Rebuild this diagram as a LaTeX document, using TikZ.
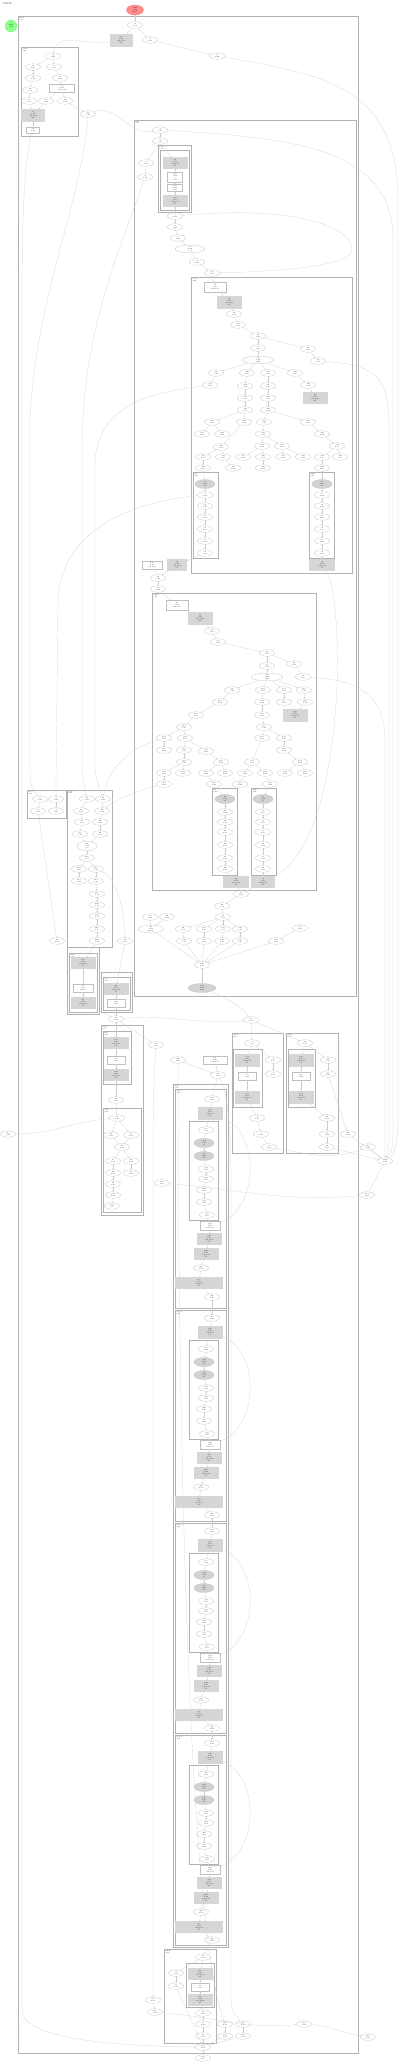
\documentclass[tikz,border=0pt]{standalone}
\usetikzlibrary{shapes.geometric,arrows.meta}
\tikzset{
  fn/.style={ellipse, draw=gray!50, line width=.25pt, inner sep=.2pt, minimum width=15, minimum height=6.5, font=\fontsize{1.6}{1.8}\selectfont, align=center},
  hot/.style={fn, fill=gray!35, minimum width=20, minimum height=9},
  blk/.style={rectangle, draw=gray!32, fill=gray!32, line width=.25pt, inner sep=.2pt, minimum width=24, minimum height=11, font=\fontsize{1.6}{1.8}\selectfont, align=center},
  note/.style={blk, draw=gray!50, fill=white, minimum width=18, minimum height=8},
  clus/.style={draw=gray!60, line width=.35pt},
  ctitle/.style={anchor=north west, inner sep=.3pt, font=\fontsize{1.5}{1.7}\selectfont, align=left},
  lnk/.style={draw=gray!40, line width=.2pt, -{Stealth[length=1.3pt,width=1.1pt]}},
  every edge/.style={lnk}
}
\begin{document}
\begin{tikzpicture}[x=1pt,y=-1pt]
\useasboundingbox (0,0) rectangle (400,2063);

% header and ends
\node[ctitle] (hdr) at (2,1.5) {call graph\\total 4.20 s};
\node[fn, fill=red!45, draw=red!60, minimum width=17, minimum height=10] (root) at (135,10) {\textbf{root}\\4.20\\100\%};
\node[fn, circle, fill=green!45, draw=green!60, minimum size=12] (done) at (11,26) {\textbf{end}\\0.00};

% main
\draw[clus] (18,16) rectangle (358,2053);
\node[ctitle] (ttlmain) at (19,17) {main\\4.18};
\node[fn] (t1) at (135,25) {t1\\4.18};
\node[blk, minimum width=22, minimum height=12] (tg) at (121,40) {tg\\2.10\\self 0.01\\50\%};
\node[fn] (t2) at (150,40) {t2\\2.05};
\node[fn] (t3) at (217,56) {t3\\1.96};

% setup
\draw[clus] (21,47) rectangle (78,136);
\node[ctitle] (ttlA) at (22,48) {setup\\0.90};
\node[fn] (a1) at (53,56) {a1\\0.90};
\node[fn] (a2) at (33,67) {a2\\0.41};
\node[fn] (a3) at (54,67) {a3\\0.45};
\node[fn] (a4) at (33,78) {a4\\0.40};
\node[fn] (a5) at (60,78) {a5\\0.44};
\node[fn] (a6) at (30,90) {a6\\0.38};
\node[note, minimum width=25] (ar) at (62,88) {ar\\0.43\\self 0.02};
\node[fn] (a7) at (29,101) {a7\\0.37};
\node[fn] (a8) at (46,101) {a8\\0.20};
\node[fn] (a9) at (65,101) {a9\\0.21};
\node[blk, minimum width=23, minimum height=12] (ag) at (33,115) {ag\\0.36\\self 0.30\\9\%};
\node[note, minimum width=13, minimum height=6] (aw) at (33,130) {aw\\0.06};
\node[fn] (b0) at (88,114) {b0\\0.21};

% run
\draw[clus] (134,120) rectangle (356,996);
\node[ctitle] (ttlB) at (135,121) {run\\3.10};
\node[fn] (c1) at (160,130) {c1\\3.10};
\node[fn] (c2) at (160,141) {c2\\3.02};
\draw[clus] (158,145) rectangle (191,212);
\draw[clus] (160,150) rectangle (189,210);
\node[ctitle] (ttlC) at (159,146) {load\\0.30};
\node[blk] (cg1) at (175,163) {cg1\\0.30\\self 0.02\\7\%};
\node[note, minimum width=15, minimum height=10] (cw1) at (175,177) {cw1\\0.28\\io\\0.27};
\node[note, minimum width=15, minimum height=7] (cw2) at (175,188) {cw2\\0.26\\0.25};
\node[blk] (cg2) at (175,201) {cg2\\0.25\\self 0.25\\6\%};
\node[fn] (c3) at (146,163) {c3\\0.12};
\node[fn] (c4) at (145,177) {c4\\0.11};
\node[fn] (c5) at (175,216) {c5\\2.70};
\node[fn] (c6) at (175,227) {c6\\2.68};
\node[fn] (c7) at (178,238) {c7\\2.66};
\node[fn, minimum width=30] (c8) at (190,249) {c8\\2.64\\loop};
\node[fn] (c9) at (197,262) {c9\\2.60};
\node[fn] (c10) at (212,273) {c10\\2.58};

% solve
\draw[clus] (191,277) rectangle (352,573);
\node[ctitle] (ttlD) at (192,278) {solve\\1.40};
\node[note, minimum width=22, minimum height=10] (d1) at (215,287) {d1\\1.40\\self 0.01};
\node[blk, minimum height=12] (dg) at (229,302) {dg\\1.39\\self 0.03\\33\%};
\node[fn] (d2) at (234,314) {d2\\1.36};
\node[fn] (d3) at (238,325) {d3\\1.35};
\node[fn] (d4) at (258,336) {d4\\1.34};
\node[fn] (d5) at (258,348) {d5\\1.20};
\node[fn] (d6) at (308,349) {d6\\0.14};
\node[fn] (d7) at (318,361) {d7\\0.13};
\node[fn, minimum width=32] (d8) at (258,360) {d8\\1.19\\split};
\node[fn] (d9) at (216,373) {d9\\0.20};
\node[fn] (d10) at (247,373) {d10\\0.40};
\node[fn] (d11) at (268,373) {d11\\0.39};
\node[fn] (d12) at (295,373) {d12\\0.20};
\node[fn] (d13) at (210,385) {d13\\0.19};
\node[fn] (d14) at (245,386) {d14\\0.39};
\node[fn] (d15) at (268,386) {d15\\0.38};
\node[fn] (d16) at (308,385) {d16\\0.19};
\node[blk] (dg2) at (315,398) {dg2\\0.18\\self 0.18\\4\%};
\node[fn] (d17) at (245,398) {d17\\0.38};
\node[fn] (d18) at (268,398) {d18\\0.37};
\node[fn] (d19) at (245,410) {d19\\0.37};
\node[fn] (d20) at (268,410) {d20\\0.36};
\node[fn] (d21) at (212,422) {d21\\0.12};
\node[fn] (d22) at (244,422) {d22\\0.12};
\node[fn] (d23) at (264,422) {d23\\0.18};
\node[fn] (d24) at (308,422) {d24\\0.17};
\node[fn] (d25) at (202,434) {d25\\0.06};
\node[fn] (d26) at (222,434) {d26\\0.06};
\node[fn] (d27) at (263,434) {d27\\0.17};
\node[fn] (d28) at (322,434) {d28\\0.16};
\node[fn] (d29) at (221,447) {d29\\0.11};
\node[fn] (d30) at (262,446) {d30\\0.08};
\node[fn] (d31) at (282,446) {d31\\0.08};
\node[fn] (d32) at (337,446) {d32\\0.15};
\node[fn] (d33) at (203,457) {d33\\0.05};
\node[fn] (d34) at (223,457) {d34\\0.05};
\node[fn] (d35) at (243,457) {d35\\0.04};
\node[fn] (d36) at (263,457) {d36\\0.04};
\node[fn] (d37) at (283,457) {d37\\0.04};
\node[fn] (d38) at (303,457) {d38\\0.04};
\node[fn] (d39) at (322,457) {d39\\0.07};
\node[fn] (d40) at (340,457) {d40\\0.07};
\node[fn] (d41) at (203,468) {d41\\0.05};
\node[fn] (d42) at (233,468) {d42\\0.04};
\node[fn] (d43) at (263,468) {d43\\0.04};
\node[fn] (d44) at (322,468) {d44\\0.07};
\draw[clus] (193,472) rectangle (218,558);
\node[ctitle] (ttlE) at (194,473) {left\\0.05};
\node[hot] (e0) at (205,484) {e0\\0.05\\5\%};
\node[fn] (e1) at (205,495) {e1\\0.04};
\node[fn] (e2) at (205,506) {e2\\0.04};
\node[fn] (e3) at (205,517) {e3\\0.03};
\node[fn] (e4) at (205,529) {e4\\0.03};
\node[fn] (e5) at (205,541) {e5\\0.02};
\node[fn] (e6) at (205,553) {e6\\0.02};
\draw[clus] (309,472) rectangle (334,558);
\node[ctitle] (ttlF) at (310,473) {right\\0.07};
\node[hot] (f0) at (322,484) {f0\\0.07\\6\%};
\node[fn] (f1) at (322,495) {f1\\0.06};
\node[fn] (f2) at (322,506) {f2\\0.06};
\node[fn] (f3) at (322,517) {f3\\0.05};
\node[fn] (f4) at (322,529) {f4\\0.05};
\node[fn] (f5) at (322,541) {f5\\0.04};
\node[fn] (f6) at (322,553) {f6\\0.04};
\node[blk, minimum width=25] (fg) at (322,565) {fg\\0.04\\self 0.04\\1\%};
\node[note, minimum width=20] (bw) at (152,565) {bw\\0.30\\self 0.01};
\node[blk, minimum width=19] (bg) at (177,565) {bg\\0.29\\self 0.02\\7\%};
\node[fn] (b1) at (158,578) {b1\\1.10};
\node[fn] (b2) at (158,589) {b2\\1.08};

% refine
\draw[clus] (152,593) rectangle (316,890);
\node[ctitle] (ttlG) at (153,594) {refine\\1.08};
\node[note, minimum width=22, minimum height=10] (g1) at (177,605) {g1\\1.08\\self 0.01};
\node[blk, minimum height=12] (gg) at (200,618) {gg\\1.07\\self 0.02\\25\%};
\node[fn] (g2) at (212,631) {g2\\1.05};
\node[fn] (g3) at (218,642) {g3\\1.04};
\node[fn] (g4) at (267,653) {g4\\1.03};
\node[fn] (g5) at (267,666) {g5\\0.92};
\node[fn] (g6) at (294,664) {g6\\0.11};
\node[fn] (g7) at (303,677) {g7\\0.10};
\node[fn, minimum width=32] (g8) at (267,677) {g8\\0.91\\split};
\node[fn] (g9) at (232,690) {g9\\0.30};
\node[fn] (g10) at (263,690) {g10\\0.30};
\node[fn] (g11) at (284,690) {g11\\0.16};
\node[fn] (g12) at (304,690) {g12\\0.15};
\node[fn] (g13) at (220,702) {g13\\0.29};
\node[fn] (g14) at (262,702) {g14\\0.29};
\node[fn] (g15) at (284,702) {g15\\0.15};
\node[fn] (g16) at (305,702) {g16\\0.14};
\node[blk, minimum height=12] (gg2) at (295,715) {gg2\\0.14\\self 0.14\\3\%};
\node[fn] (g17) at (196,715) {g17\\0.28};
\node[fn] (g18) at (262,715) {g18\\0.28};
\node[fn] (g19) at (184,727) {g19\\0.27};
\node[fn] (g20) at (264,727) {g20\\0.27};
\node[fn] (g21) at (164,738) {g21\\0.09};
\node[fn] (g22) at (185,738) {g22\\0.17};
\node[fn] (g23) at (262,738) {g23\\0.13};
\node[fn] (g24) at (284,738) {g24\\0.13};
\node[fn] (g25) at (164,750) {g25\\0.09};
\node[fn] (g26) at (184,750) {g26\\0.08};
\node[fn] (g27) at (206,751) {g27\\0.08};
\node[fn] (g28) at (284,750) {g28\\0.12};
\node[fn] (g29) at (184,762) {g29\\0.08};
\node[fn] (g30) at (221,762) {g30\\0.08};
\node[fn] (g31) at (252,762) {g31\\0.12};
\node[fn] (g32) at (300,762) {g32\\0.12};
\node[fn] (g33) at (164,773) {g33\\0.04};
\node[fn] (g34) at (183,773) {g34\\0.04};
\node[fn] (g35) at (206,773) {g35\\0.04};
\node[fn] (g36) at (225,773) {g36\\0.04};
\node[fn] (g37) at (245,773) {g37\\0.06};
\node[fn] (g38) at (265,773) {g38\\0.06};
\node[fn] (g39) at (285,773) {g39\\0.06};
\node[fn] (g40) at (305,773) {g40\\0.06};
\node[fn] (g41) at (164,784) {g41\\0.04};
\node[fn] (g42) at (214,784) {g42\\0.04};
\node[fn] (g43) at (240,784) {g43\\0.06};
\node[fn] (g44) at (270,784) {g44\\0.06};
\draw[clus] (212,788) rectangle (237,875);
\node[ctitle] (ttlH) at (213,789) {left\\0.04};
\node[hot] (h0) at (225,799) {h0\\0.04\\4\%};
\node[fn] (h1) at (225,812) {h1\\0.04};
\node[fn] (h2) at (225,822) {h2\\0.03};
\node[fn] (h3) at (225,832) {h3\\0.03};
\node[fn] (h4) at (225,845) {h4\\0.03};
\node[fn] (h5) at (225,858) {h5\\0.02};
\node[fn] (h6) at (225,869) {h6\\0.02};
\draw[clus] (251,788) rectangle (276,875);
\node[ctitle] (ttlI) at (252,789) {right\\0.06};
\node[hot] (i0) at (263,799) {i0\\0.06\\5\%};
\node[fn] (i1) at (263,812) {i1\\0.05};
\node[fn] (i2) at (263,822) {i2\\0.05};
\node[fn] (i3) at (263,832) {i3\\0.05};
\node[fn] (i4) at (263,845) {i4\\0.04};
\node[fn] (i5) at (263,858) {i5\\0.04};
\node[fn] (i6) at (263,869) {i6\\0.03};
\node[blk, minimum width=25] (hg) at (236,882) {hg\\0.02\\self 0.02\\1\%};
\node[blk, minimum width=23] (ig) at (263,882) {ig\\0.03\\self 0.03\\1\%};
\node[fn] (b3) at (241,894) {b3\\0.60};
\node[fn] (b4) at (222,906) {b4\\0.58};
\node[fn] (b5) at (150,917) {b5\\0.10};
\node[fn] (b6) at (167,917) {b6\\0.09};
\node[fn] (b7) at (223,917) {b7\\0.57};
\node[fn, minimum width=26] (b8) at (151,929) {b8\\0.18\\merge};
\node[fn] (b9) at (183,929) {b9\\0.12};
\node[fn] (b10) at (204,929) {b10\\0.12};
\node[fn] (b11) at (223,929) {b11\\0.11};
\node[fn] (b12) at (240,929) {b12\\0.11};
\node[fn] (b13) at (300,928) {b13\\0.10};
\node[fn] (b14) at (184,941) {b14\\0.11};
\node[fn] (b15) at (204,941) {b15\\0.11};
\node[fn] (b16) at (222,941) {b16\\0.10};
\node[fn] (b17) at (240,941) {b17\\0.10};
\node[fn] (b18) at (276,941) {b18\\0.09};
\node[fn] (b19) at (202,965) {b19\\0.50};
\node[hot, minimum width=28] (b20) at (202,988) {b20\\0.49\\12\%};

% left groups
\draw[clus] (27,790) rectangle (66,818);
\node[ctitle] (ttlJ) at (28,791) {read\\0.08};
\node[fn] (j1) at (40,799) {j1\\0.04};
\node[fn] (j2) at (56,799) {j2\\0.04};
\node[fn] (j3) at (38,811) {j3\\0.03};
\node[fn] (j4) at (56,811) {j4\\0.03};
\draw[clus] (67,790) rectangle (112,947);
\node[ctitle] (ttlK) at (68,791) {parse\\0.40};
\node[fn] (k1) at (87,799) {k1\\0.20};
\node[fn] (k2) at (103,799) {k2\\0.20};
\node[fn] (k3) at (81,811) {k3\\0.19};
\node[fn] (k4) at (102,811) {k4\\0.19};
\node[fn] (k5) at (82,822) {k5\\0.18};
\node[fn] (k6) at (100,822) {k6\\0.18};
\node[fn] (k7) at (80,834) {k7\\0.17};
\node[fn] (k8) at (100,834) {k8\\0.17};
\node[fn, minimum width=20, minimum height=9] (k9) at (87,846) {k9\\0.34\\join};
\node[fn] (k10) at (87,858) {k10\\0.33};
\node[fn] (k11) at (79,869) {k11\\0.10};
\node[fn] (k12) at (96,869) {k12\\0.22};
\node[fn] (k13) at (79,881) {k13\\0.09};
\node[fn] (k14) at (96,881) {k14\\0.21};
\node[fn] (k15) at (97,894) {k15\\0.20};
\node[fn] (k16) at (97,905) {k16\\0.19};
\node[fn] (k17) at (97,916) {k17\\0.18};
\node[fn] (k18) at (97,929) {k18\\0.17};
\node[fn] (k19) at (97,941) {k19\\0.16};
\node[fn] (x1) at (57,941) {x1\\0.03};
\node[fn] (x2) at (125,941) {x2\\0.05};
\draw[clus] (67,947) rectangle (99,1014);
\draw[clus] (69,953) rectangle (97,1012);
\node[ctitle] (ttlL) at (70,954) {write\\0.16};
\node[blk] (lg1) at (83,963) {lg1\\0.16\\self 0.01\\4\%};
\node[note, minimum width=20] (lw) at (83,988) {lw\\0.15\\flush};
\node[blk] (lg2) at (83,1003) {lg2\\0.14\\self 0.14\\3\%};
\draw[clus] (101,972) rectangle (132,1012);
\draw[clus] (103,977) rectangle (130,1010);
\node[ctitle] (ttlM) at (104,978) {log\\0.05};
\node[blk] (mg) at (116,989) {mg\\0.05\\self 0.01\\1\%};
\node[note] (mw) at (116,1003) {mw\\0.04};
\node[fn] (x3) at (116,1019) {x3\\0.40};
\draw[clus] (101,1025) rectangle (143,1215);
\node[ctitle] (ttlN) at (102,1026) {report\\0.30};
\draw[clus] (103,1031) rectangle (131,1084);
\node[ctitle] (ttlN1) at (104,1032) {fmt\\0.10};
\node[blk] (ng1) at (116,1043) {ng1\\0.10\\self 0.01\\2\%};
\node[note] (nw) at (116,1060) {nw\\0.09};
\node[blk] (ng2) at (116,1075) {ng2\\0.08\\self 0.08\\2\%};
\node[fn] (x4) at (116,1100) {x4\\0.20};
\draw[clus] (103,1108) rectangle (141,1212);
\node[ctitle] (ttlN2) at (104,1109) {emit\\0.20};
\node[fn] (n1) at (117,1118) {n1\\0.20};
\node[fn] (n2) at (111,1135) {n2\\0.10};
\node[fn] (n3) at (131,1135) {n3\\0.10};
\node[fn] (n4) at (122,1147) {n4\\0.19};
\node[fn] (n5) at (113,1161) {n5\\0.09};
\node[fn] (n6) at (131,1161) {n6\\0.09};
\node[fn] (n7) at (113,1173) {n7\\0.08};
\node[fn] (n8) at (131,1173) {n8\\0.08};
\node[fn] (n9) at (113,1184) {n9\\0.07};
\node[fn] (n10) at (113,1195) {n10\\0.06};
\node[fn] (n11) at (112,1206) {n11\\0.05};

% middle row
\node[fn] (x5) at (156,1045) {x5\\0.04};
\node[fn] (x6) at (178,1060) {x6\\0.20};
\node[note, minimum width=24] (xw) at (215,1060) {xw\\0.20\\self 0.01};
\node[fn] (x7) at (218,1075) {x7\\0.90};
\node[fn] (x8) at (251,1020) {x8\\0.30};
\draw[clus] (232,1033) rectangle (283,1153);
\node[ctitle] (ttlO) at (233,1034) {check\\0.15};
\node[fn] (o1) at (252,1043) {o1\\0.15};
\draw[clus] (233,1049) rectangle (262,1107);
\node[blk, minimum height=12] (og1) at (247,1060) {og1\\0.10\\self 0.01\\2\%};
\node[note] (ow) at (247,1076) {ow\\0.09};
\node[blk, minimum height=12] (og2) at (247,1097) {og2\\0.08\\self 0.08\\2\%};
\node[fn] (o2) at (273,1060) {o2\\0.05};
\node[fn] (o3) at (273,1074) {o3\\0.04};
\node[fn] (o4) at (257,1118) {o4\\0.07};
\node[fn] (o5) at (261,1134) {o5\\0.06};
\node[fn] (o6) at (269,1147) {o6\\0.05};
\draw[clus] (286,1033) rectangle (338,1153);
\node[ctitle] (ttlP) at (287,1034) {verify\\0.15};
\node[fn] (p1) at (305,1043) {p1\\0.15};
\draw[clus] (288,1049) rectangle (315,1107);
\node[blk, minimum height=12] (pg1) at (301,1060) {pg1\\0.10\\self 0.01\\2\%};
\node[note] (pw) at (301,1076) {pw\\0.09};
\node[blk, minimum height=12] (pg2) at (301,1097) {pg2\\0.08\\self 0.08\\2\%};
\node[fn] (p2) at (328,1060) {p2\\0.05};
\node[fn] (p3) at (328,1074) {p3\\0.04};
\node[fn] (p4) at (327,1118) {p4\\0.07};
\node[fn] (p5) at (327,1134) {p5\\0.06};
\node[fn] (p6) at (327,1147) {p6\\0.05};
\node[fn] (x9) at (348,1134) {x9\\0.02};
\node[fn] (x10) at (368,1147) {x10\\0.02};
\node[fn] (sink) at (385,1161) {sink\\0.60};
\node[fn] (x11) at (8,1134) {x11\\0.01};
\node[fn] (x12) at (162,1183) {x12\\0.01};
\node[fn] (x13) at (367,1195) {x13\\0.01};

% loop body
\draw[clus] (173,1084) rectangle (228,1947);
\node[ctitle] (ttlQ) at (174,1085) {steps\\0.88};
% step 1
\draw[clus] (175,1089) rectangle (226,1308);
\node[ctitle] (ttlQ1) at (176,1090) {step 1\\0.22};
\node[fn] (q1a) at (212,1099) {q1a\\0.22};
\node[blk, minimum height=12] (q1b) at (210,1113) {q1b\\0.22\\self 0.01\\5\%};
\draw[clus] (189,1121) rectangle (218,1220);
\node[fn] (q1c) at (206,1130) {q1c\\0.12};
\node[hot] (q1d) at (204,1143) {q1d\\0.11\\3\%};
\node[hot] (q1e) at (204,1156) {q1e\\0.10\\2\%};
\node[fn] (q1f) at (206,1169) {q1f\\0.05};
\node[fn] (q1g) at (206,1179) {q1g\\0.05};
\node[fn] (q1h) at (204,1190) {q1h\\0.04};
\node[fn] (q1i) at (204,1202) {q1i\\0.04};
\node[fn] (q1j) at (207,1215) {q1j\\0.03};
\node[note, minimum width=20, minimum height=9] (q1k) at (210,1226) {q1k\\0.09\\self 0.01};
\node[blk] (q1l) at (209,1239) {q1l\\0.08\\self 0.02\\2\%};
\node[blk] (q1m) at (206,1254) {q1m\\0.06\\self 0.03\\1\%};
\node[fn] (q1n) at (201,1268) {q1n\\0.03};
\node[blk, minimum width=47] (q1o) at (199,1283) {q1o\\0.03\\self 0.03\\1\%};
\node[fn] (q1p) at (212,1297) {q1p\\0.01};
% step 2
\draw[clus] (175,1310) rectangle (226,1521);
\node[ctitle] (ttlQ2) at (176,1311) {step 2\\0.22};
\node[fn] (q2a) at (212,1318) {q2a\\0.22};
\node[blk, minimum height=12] (q2b) at (210,1332) {q2b\\0.22\\self 0.01\\5\%};
\draw[clus] (189,1340) rectangle (218,1439);
\node[fn] (q2c) at (206,1349) {q2c\\0.12};
\node[hot] (q2d) at (204,1362) {q2d\\0.11\\3\%};
\node[hot] (q2e) at (204,1375) {q2e\\0.10\\2\%};
\node[fn] (q2f) at (206,1388) {q2f\\0.05};
\node[fn] (q2g) at (206,1398) {q2g\\0.05};
\node[fn] (q2h) at (204,1409) {q2h\\0.04};
\node[fn] (q2i) at (204,1421) {q2i\\0.04};
\node[fn] (q2j) at (207,1434) {q2j\\0.03};
\node[note, minimum width=20, minimum height=9] (q2k) at (210,1445) {q2k\\0.09\\self 0.01};
\node[blk] (q2l) at (209,1458) {q2l\\0.08\\self 0.02\\2\%};
\node[blk] (q2m) at (206,1473) {q2m\\0.06\\self 0.03\\1\%};
\node[fn] (q2n) at (201,1487) {q2n\\0.03};
\node[blk, minimum width=47] (q2o) at (199,1502) {q2o\\0.03\\self 0.03\\1\%};
\node[fn] (q2p) at (212,1515) {q2p\\0.01};
% step 3
\draw[clus] (175,1523) rectangle (226,1733);
\node[ctitle] (ttlQ3) at (176,1524) {step 3\\0.22};
\node[fn] (q3a) at (212,1531) {q3a\\0.22};
\node[blk, minimum height=12] (q3b) at (210,1545) {q3b\\0.22\\self 0.01\\5\%};
\draw[clus] (189,1553) rectangle (218,1652);
\node[fn] (q3c) at (206,1562) {q3c\\0.12};
\node[hot] (q3d) at (204,1575) {q3d\\0.11\\3\%};
\node[hot] (q3e) at (204,1588) {q3e\\0.10\\2\%};
\node[fn] (q3f) at (206,1601) {q3f\\0.05};
\node[fn] (q3g) at (206,1611) {q3g\\0.05};
\node[fn] (q3h) at (204,1622) {q3h\\0.04};
\node[fn] (q3i) at (204,1634) {q3i\\0.04};
\node[fn] (q3j) at (207,1647) {q3j\\0.03};
\node[note, minimum width=20, minimum height=9] (q3k) at (210,1658) {q3k\\0.09\\self 0.01};
\node[blk] (q3l) at (209,1671) {q3l\\0.08\\self 0.02\\2\%};
\node[blk] (q3m) at (206,1686) {q3m\\0.06\\self 0.03\\1\%};
\node[fn] (q3n) at (201,1700) {q3n\\0.03};
\node[blk, minimum width=47] (q3o) at (199,1715) {q3o\\0.03\\self 0.03\\1\%};
\node[fn] (q3p) at (212,1728) {q3p\\0.01};
% step 4
\draw[clus] (175,1735) rectangle (226,1945);
\node[ctitle] (ttlQ4) at (176,1736) {step 4\\0.22};
\node[fn] (q4a) at (212,1743) {q4a\\0.22};
\node[blk, minimum height=12] (q4b) at (210,1757) {q4b\\0.22\\self 0.01\\5\%};
\draw[clus] (189,1765) rectangle (218,1864);
\node[fn] (q4c) at (206,1774) {q4c\\0.12};
\node[hot] (q4d) at (204,1787) {q4d\\0.11\\3\%};
\node[hot] (q4e) at (204,1800) {q4e\\0.10\\2\%};
\node[fn] (q4f) at (206,1813) {q4f\\0.05};
\node[fn] (q4g) at (206,1823) {q4g\\0.05};
\node[fn] (q4h) at (204,1834) {q4h\\0.04};
\node[fn] (q4i) at (204,1846) {q4i\\0.04};
\node[fn] (q4j) at (207,1859) {q4j\\0.03};
\node[note, minimum width=20, minimum height=9] (q4k) at (210,1870) {q4k\\0.09\\self 0.01};
\node[blk] (q4l) at (209,1883) {q4l\\0.08\\self 0.02\\2\%};
\node[blk] (q4m) at (206,1898) {q4m\\0.06\\self 0.03\\1\%};
\node[fn] (q4n) at (201,1912) {q4n\\0.03};
\node[blk, minimum width=47] (q4o) at (199,1927) {q4o\\0.03\\self 0.03\\1\%};
\node[fn] (q4p) at (212,1940) {q4p\\0.01};

% finish
\draw[clus] (164,1949) rectangle (216,2043);
\node[ctitle] (ttlR) at (165,1950) {finish\\0.12};
\node[fn] (r1) at (203,1957) {r1\\0.12};
\draw[clus] (186,1963) rectangle (214,2007);
\node[blk] (rg1) at (200,1974) {rg1\\0.08\\self 0.01\\2\%};
\node[note] (rw) at (200,1987) {rw\\0.07};
\node[blk] (rg2) at (200,2000) {rg2\\0.06\\self 0.06\\1\%};
\node[fn] (r2) at (176,1973) {r2\\0.03};
\node[fn] (r3) at (176,1986) {r3\\0.02};
\node[fn] (r4) at (203,2013) {r4\\0.05};
\node[fn] (r5) at (203,2024) {r5\\0.04};
\node[fn] (r6) at (203,2036) {r6\\0.03};
\node[fn] (x14) at (153,2000) {x14\\0.02};
\node[fn] (x15) at (155,2012) {x15\\0.02};
\node[fn] (x16) at (225,2024) {x16\\0.01};
\node[fn] (x17) at (225,2036) {x17\\0.01};
\node[fn] (x18) at (243,2024) {x18\\0.01};
\node[fn] (x19) at (243,2036) {x19\\0.01};
\node[fn] (x20) at (304,2024) {x20\\0.01};
\node[fn] (x21) at (368,2037) {x21\\0.01};
\node[fn] (x22) at (203,2047) {x22\\0.05};
\node[fn] (x23) at (203,2058) {x23\\0.05};

% connectors
\path (root) edge (t1) (t1) edge (tg) (t1) edge (t2) (t2) edge (t3)
  (tg) edge[out=190,in=80] (a1)
  (a1) edge (a2) (a1) edge (a3) (a2) edge (a4) (a3) edge (a5) (a4) edge (a6) (a5) edge (ar)
  (a6) edge (a7) (ar) edge (a8) (ar) edge (a9) (a7) edge (ag) (a8) edge (ag) (ag) edge (aw)
  (a9) edge (b0) (b0) edge[out=20,in=190] (c1);
\path (c1) edge (c2) (c2) edge (cg1) (c2) edge (c3) (c3) edge (c4) (cg1) edge (cw1) (cw1) edge (cw2)
  (cw2) edge (cg2) (cg2) edge (c5) (c5) edge (c6) (c6) edge (c7) (c7) edge (c8) (c8) edge (c9)
  (c9) edge (c10) (c10) edge (d1);
\path (d1) edge (dg) (dg) edge (d2) (d2) edge (d3) (d3) edge (d4) (d4) edge (d5) (d5) edge (d8)
  (d4) edge (d6) (d6) edge (d7) (d8) edge (d9) (d8) edge (d10) (d8) edge (d11) (d8) edge (d12)
  (d9) edge (d13) (d10) edge (d14) (d11) edge (d15) (d12) edge (d16) (d16) edge (dg2)
  (d14) edge (d17) (d15) edge (d18) (d17) edge (d19) (d18) edge (d20) (d19) edge (d21)
  (d19) edge (d22) (d20) edge (d23) (d20) edge (d24) (d21) edge (d25) (d21) edge (d26)
  (d22) edge (d29) (d23) edge (d27) (d24) edge (d28) (d27) edge (d30) (d27) edge (d31)
  (d28) edge (d32) (d29) edge (d33) (d29) edge (d34) (d30) edge (d35) (d30) edge (d36)
  (d31) edge (d37) (d31) edge (d38) (d32) edge (d39) (d32) edge (d40) (d33) edge (d41)
  (d34) edge (d42) (d36) edge (d43) (d39) edge (d44) (d41) edge (e0) (d44) edge (f0)
  (e0) edge (e1) (e1) edge (e2) (e2) edge (e3) (e3) edge (e4) (e4) edge (e5) (e5) edge (e6)
  (f0) edge (f1) (f1) edge (f2) (f2) edge (f3) (f3) edge (f4) (f4) edge (f5) (f5) edge (f6)
  (f6) edge (fg) (e6) edge (bg) (bg) edge (b1) (bw) edge (b1) (b1) edge (b2) (b2) edge (g1);
\path (g1) edge (gg) (gg) edge (g2) (g2) edge (g3) (g3) edge (g4) (g4) edge (g5) (g5) edge (g8)
  (g4) edge (g6) (g6) edge (g7) (g8) edge (g9) (g8) edge (g10) (g8) edge (g11) (g8) edge (g12)
  (g9) edge (g13) (g10) edge (g14) (g11) edge (g15) (g12) edge (g16) (g16) edge (gg2)
  (g13) edge (g17) (g14) edge (g18) (g17) edge (g19) (g18) edge (g20) (g19) edge (g21)
  (g19) edge (g22) (g20) edge (g23) (g20) edge (g24) (g21) edge (g25) (g22) edge (g26)
  (g22) edge (g27) (g24) edge (g28) (g26) edge (g29) (g27) edge (g30) (g23) edge (g31)
  (g28) edge (g32) (g29) edge (g33) (g29) edge (g34) (g30) edge (g35) (g30) edge (g36)
  (g31) edge (g37) (g31) edge (g38) (g32) edge (g39) (g32) edge (g40) (g33) edge (g41)
  (g35) edge (g42) (g37) edge (g43) (g38) edge (g44) (g42) edge (h0) (g44) edge (i0)
  (h0) edge (h1) (h1) edge (h2) (h2) edge (h3) (h3) edge (h4) (h4) edge (h5) (h5) edge (h6)
  (i0) edge (i1) (i1) edge (i2) (i2) edge (i3) (i3) edge (i4) (i4) edge (i5) (i5) edge (i6)
  (h6) edge (hg) (i6) edge (ig) (hg) edge (b3) (ig) edge (b3) (b3) edge (b4) (b4) edge (b7)
  (b7) edge (b9) (b7) edge (b10) (b7) edge (b11) (b7) edge (b12) (b5) edge (b8) (b6) edge (b8)
  (b9) edge (b14) (b10) edge (b15) (b11) edge (b16) (b12) edge (b17) (b13) edge (b18)
  (b14) edge (b19) (b15) edge (b19) (b16) edge (b19) (b17) edge (b19) (b18) edge (b19)
  (b8) edge (b19) (b19) edge (b20);
\path (j1) edge (j3) (j2) edge (j4) (j3) edge (x1) (k1) edge (k3) (k2) edge (k4) (k3) edge (k5)
  (k4) edge (k6) (k5) edge (k7) (k6) edge (k8) (k7) edge (k9) (k8) edge (k9) (k9) edge (k10)
  (k10) edge (k11) (k10) edge (k12) (k11) edge (k13) (k12) edge (k14) (k14) edge (k15)
  (k15) edge (k16) (k16) edge (k17) (k17) edge (k18) (k18) edge (k19) (k19) edge (lg1)
  (lg1) edge (lw) (lw) edge (lg2) (x2) edge (mg) (mg) edge (mw) (mw) edge (x3) (lg2) edge (x3)
  (x3) edge (ng1) (ng1) edge (nw) (nw) edge (ng2) (ng2) edge (x4) (x4) edge (n1)
  (n1) edge (n2) (n1) edge (n3) (n2) edge (n4) (n3) edge (n4) (n4) edge (n5) (n4) edge (n6)
  (n5) edge (n7) (n6) edge (n8) (n7) edge (n9) (n9) edge (n10) (n10) edge (n11)
  (x3) edge (x5) (x3) edge[out=5,in=185] (x8) (x6) edge (x7) (xw) edge (x7) (x7) edge (q1a)
  (x11) edge[out=0,in=185] (n1) (x12) edge[out=-5,in=185] (x13);
\path (x8) edge (o1) (x8) edge (p1) (o1) edge (og1) (og1) edge (ow) (ow) edge (og2) (og2) edge (o4)
  (o4) edge (o5) (o5) edge (o6) (o1) edge (o2) (o2) edge (o3)
  (p1) edge (pg1) (pg1) edge (pw) (pw) edge (pg2) (pg2) edge (p4) (p4) edge (p5) (p5) edge (p6)
  (p1) edge (p2) (p2) edge (p3) (p3) edge (x9) (x9) edge (sink) (x10) edge (sink)
  (p6) edge (sink) (o6) edge[out=-10,in=200] (x10) (x13) edge (sink);
\path (q1a) edge (q1b) (q1b) edge (q1c) (q1c) edge (q1d) (q1d) edge (q1e) (q1e) edge (q1f)
  (q1f) edge (q1g) (q1g) edge (q1h) (q1h) edge (q1i) (q1i) edge (q1j) (q1j) edge (q1k)
  (q1k) edge (q1l) (q1l) edge (q1m) (q1m) edge (q1n) (q1n) edge (q1o) (q1o) edge (q1p)
  (q1b) edge[out=-20,in=20] (q1k) (q1p) edge (q2a)
  (q2a) edge (q2b) (q2b) edge (q2c) (q2c) edge (q2d) (q2d) edge (q2e) (q2e) edge (q2f)
  (q2f) edge (q2g) (q2g) edge (q2h) (q2h) edge (q2i) (q2i) edge (q2j) (q2j) edge (q2k)
  (q2k) edge (q2l) (q2l) edge (q2m) (q2m) edge (q2n) (q2n) edge (q2o) (q2o) edge (q2p)
  (q2b) edge[out=-20,in=20] (q2k) (q2p) edge (q3a)
  (q3a) edge (q3b) (q3b) edge (q3c) (q3c) edge (q3d) (q3d) edge (q3e) (q3e) edge (q3f)
  (q3f) edge (q3g) (q3g) edge (q3h) (q3h) edge (q3i) (q3i) edge (q3j) (q3j) edge (q3k)
  (q3k) edge (q3l) (q3l) edge (q3m) (q3m) edge (q3n) (q3n) edge (q3o) (q3o) edge (q3p)
  (q3b) edge[out=-20,in=20] (q3k) (q3p) edge (q4a)
  (q4a) edge (q4b) (q4b) edge (q4c) (q4c) edge (q4d) (q4d) edge (q4e) (q4e) edge (q4f)
  (q4f) edge (q4g) (q4g) edge (q4h) (q4h) edge (q4i) (q4i) edge (q4j) (q4j) edge (q4k)
  (q4k) edge (q4l) (q4l) edge (q4m) (q4m) edge (q4n) (q4n) edge (q4o) (q4o) edge (q4p)
  (q4b) edge[out=-20,in=20] (q4k) (q4p) edge (r1);
\path (r1) edge (r2) (r2) edge (r3) (r1) edge (rg1) (rg1) edge (rw) (rw) edge (rg2) (rg2) edge (r4)
  (r4) edge (r5) (r5) edge (r6) (r6) edge (x22) (x22) edge (x23) (x14) edge (x15)
  (x15) edge[out=-5,in=185] (x20) (x20) edge[out=-5,in=170] (x21) (x16) edge (x17)
  (x18) edge (x19) (x17) edge (x22) (x19) edge (x22) (r3) edge (x22);

% long connectors
\draw[lnk] (t3) .. controls (330,75) and (398,90) .. (398,200) -- (398,1115) .. controls (398,1145) and (394,1155) .. (sink);
\draw[lnk] (c1) .. controls (300,138) and (393,150) .. (393,240) -- (393,1120) .. controls (393,1148) .. (sink);
\draw[lnk] (d7) .. controls (380,365) and (389,380) .. (389,430) -- (389,1125) .. controls (389,1148) .. (sink);
\draw[lnk] (g7) .. controls (365,680) and (385,700) .. (385,740) -- (385,1150) -- (sink);
\draw[lnk] (c5) .. controls (300,205) and (352,228) .. (352,250) .. controls (352,268) and (260,272) .. (c10);
\draw[lnk] (fg) .. controls (346,600) and (346,840) .. (ig);
\draw[lnk] (aw) .. controls (24,160) and (22,220) .. (22,300) -- (22,2010) .. controls (22,2040) and (120,2046) .. (x22);
\draw[lnk] (b0) .. controls (82,200) and (35,300) .. (30,420) -- (30,760) .. controls (30,785) .. (j1);
\draw[lnk] (c4) .. controls (120,250) and (82,330) .. (82,450) -- (82,770) .. controls (84,785) .. (k1);
\draw[lnk] (d13) .. controls (160,392) and (100,400) .. (95,460) -- (95,770) .. controls (98,785) .. (k2);
\draw[lnk] (e1) .. controls (150,500) and (62,520) .. (58,600) -- (56,780) .. controls (56,788) .. (j2);
\draw[lnk] (g21) .. controls (140,745) and (110,760) .. (k2);
\draw[lnk] (g41) .. controls (140,790) and (115,800) .. (k4);
\draw[lnk] (x5) .. controls (153,1100) .. (153,1200) -- (x14);
\draw[lnk] (x7) .. controls (231,1100) and (231,1150) .. (231,1200) -- (231,1990) .. controls (231,2010) .. (x18);
\draw[lnk] (b20) .. controls (230,1000) and (240,1005) .. (x8);
\draw[lnk] (k12) .. controls (120,880) and (125,920) .. (x2);
\draw[lnk] (x6) .. controls (178,1200) and (180,1900) .. (x16);
\end{tikzpicture}
\end{document}
